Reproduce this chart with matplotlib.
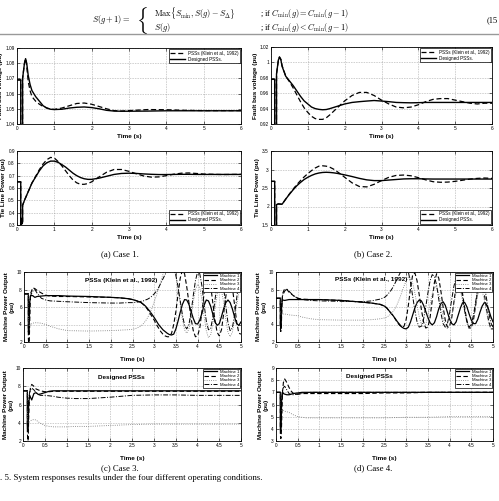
import numpy as np
import matplotlib
matplotlib.use("Agg")
import matplotlib.pyplot as plt
from matplotlib.lines import Line2D

plt.rcParams['mathtext.fontset'] = 'cm'
plt.rcParams['font.family'] = ['Liberation Sans', 'DejaVu Sans']

# ---------------- data: case 1 & 2 (a, b) ----------------
t_c1v = [0, 0.1, 0.1, 0.15, 0.15, 0.2, 0.23, 0.26, 0.3, 0.35, 0.4, 0.5, 0.6, 0.7, 0.8, 0.9, 1.0, 1.2, 1.4,
         1.6, 1.8, 2.0, 2.2, 2.4, 2.6, 2.8, 3.0, 3.5, 4.0, 4.5, 5.0, 5.5, 6.0]
c1v_designed = [1.069, 1.069, 1.035, 1.035, 1.070, 1.080, 1.083, 1.080, 1.072, 1.066, 1.062, 1.058, 1.055, 1.052,
                1.0505, 1.0497, 1.0495, 1.0497, 1.0505, 1.051, 1.0512, 1.0508, 1.050, 1.049, 1.0485, 1.0484,
                1.0484, 1.0485, 1.0487, 1.0487, 1.0487, 1.0487, 1.0487]
c1v_klein = [1.069, 1.069, 1.035, 1.035, 1.070, 1.080, 1.083, 1.078, 1.068, 1.062, 1.058, 1.055, 1.053, 1.0515,
             1.0505, 1.0498, 1.0496, 1.0505, 1.052, 1.0535, 1.0538, 1.053, 1.0515, 1.050, 1.0488, 1.0485,
             1.0488, 1.0495, 1.0494, 1.049, 1.0488, 1.0488, 1.0488]

t_c1p = [0, 0.1, 0.1, 0.12, 0.14, 0.15, 0.15, 0.2, 0.3, 0.4, 0.5, 0.6, 0.7, 0.8, 0.9, 1.0, 1.1, 1.2, 1.3, 1.4,
         1.5, 1.6, 1.7, 1.8, 1.9, 2.0, 2.2, 2.4, 2.6, 2.8, 3.0, 3.2, 3.4, 3.6, 3.8, 4.0, 4.2, 4.4, 4.6, 4.8,
         5.0, 5.5, 6.0]
c1p_designed = [0.65, 0.65, 0.29, 0.35, 0.31, 0.33, 0.46, 0.50, 0.57, 0.64, 0.69, 0.74, 0.78, 0.805, 0.818, 0.818,
                0.808, 0.79, 0.77, 0.745, 0.72, 0.70, 0.685, 0.675, 0.670, 0.670, 0.680, 0.695, 0.710, 0.718,
                0.720, 0.718, 0.714, 0.711, 0.709, 0.709, 0.710, 0.711, 0.711, 0.710, 0.710, 0.710, 0.710]
c1p_klein = [0.65, 0.65, 0.29, 0.35, 0.31, 0.33, 0.46, 0.50, 0.57, 0.64, 0.695, 0.75, 0.795, 0.83, 0.848, 0.843,
             0.815, 0.78, 0.74, 0.70, 0.665, 0.642, 0.630, 0.630, 0.636, 0.65, 0.69, 0.728, 0.750, 0.750,
             0.735, 0.715, 0.697, 0.688, 0.690, 0.700, 0.712, 0.720, 0.722, 0.718, 0.713, 0.709, 0.711]

t_c2v = [0, 0.1, 0.1, 0.15, 0.15, 0.2, 0.23, 0.27, 0.3, 0.4, 0.5, 0.6, 0.7, 0.8, 0.9, 1.0, 1.1, 1.2, 1.3, 1.4,
         1.5, 1.6, 1.8, 2.0, 2.2, 2.4, 2.6, 2.8, 3.0, 3.2, 3.4, 3.6, 3.8, 4.0, 4.2, 4.4, 4.6, 4.8, 5.0, 5.2,
         5.4, 5.6, 5.8, 6.0]
c2v_designed = [0.978, 0.978, 0.91, 0.91, 0.985, 1.003, 1.007, 1.003, 0.995, 0.982, 0.976, 0.970, 0.963, 0.956,
                0.950, 0.946, 0.942, 0.940, 0.939, 0.9385, 0.9388, 0.940, 0.943, 0.946, 0.948, 0.949, 0.9498,
                0.9505, 0.9498, 0.949, 0.948, 0.9477, 0.9475, 0.9477, 0.948, 0.948, 0.948, 0.948, 0.948, 0.948,
                0.948, 0.948, 0.948, 0.948]
c2v_klein = [0.978, 0.978, 0.91, 0.91, 0.985, 1.003, 1.007, 1.004, 0.996, 0.982, 0.975, 0.967, 0.958, 0.949,
             0.941, 0.935, 0.930, 0.927, 0.926, 0.926, 0.928, 0.932, 0.941, 0.950, 0.957, 0.961, 0.961, 0.957,
             0.951, 0.946, 0.942, 0.941, 0.942, 0.945, 0.949, 0.952, 0.953, 0.953, 0.951, 0.949, 0.947, 0.946,
             0.947, 0.947]

t_c2p = [0, 0.1, 0.1, 0.15, 0.15, 0.2, 0.3, 0.4, 0.5, 0.6, 0.7, 0.8, 0.9, 1.0, 1.1, 1.2, 1.3, 1.4, 1.5, 1.6,
         1.7, 1.8, 1.9, 2.0, 2.2, 2.4, 2.6, 2.8, 3.0, 3.2, 3.4, 3.6, 3.8, 4.0, 4.2, 4.4, 4.6, 4.8, 5.0, 5.2,
         5.4, 5.6, 5.8, 6.0]
c2p_designed = [2.68, 2.68, 1.4, 1.4, 2.05, 2.07, 2.06, 2.2, 2.33, 2.45, 2.56, 2.65, 2.73, 2.79, 2.84, 2.88,
                2.905, 2.92, 2.925, 2.92, 2.91, 2.895, 2.875, 2.855, 2.81, 2.76, 2.72, 2.70, 2.70, 2.715, 2.73,
                2.745, 2.75, 2.75, 2.745, 2.742, 2.742, 2.742, 2.742, 2.742, 2.742, 2.742, 2.742, 2.742]
c2p_klein = [2.68, 2.68, 1.4, 1.4, 2.05, 2.07, 2.06, 2.2, 2.34, 2.47, 2.59, 2.70, 2.80, 2.89, 2.97, 3.04,
             3.09, 3.10, 3.09, 3.06, 3.01, 2.94, 2.87, 2.79, 2.64, 2.54, 2.53, 2.60, 2.70, 2.79, 2.84, 2.85,
             2.83, 2.78, 2.72, 2.67, 2.655, 2.66, 2.68, 2.71, 2.74, 2.76, 2.77, 2.76]

# ---------------- data: case 3 & 4 (c, d) ----------------
t_top = [0, 0.1, 0.1, 0.11, 0.12, 0.13, 0.15, 0.2, 0.25, 0.3, 0.4, 0.5, 0.6, 0.8, 1.0, 1.5, 2.0, 2.2, 2.4] + \
        list(np.round(np.arange(2.5, 5.001, 0.05), 2))

c3_klein_m1 = [7.5, 7.5, 3.2, 3.0, 3.4, 6.5, 7.3, 7.3, 7.1, 7.2, 7.25, 7.3, 7.3, 7.3, 7.25, 7.2, 7.1, 7.05, 6.95,
               6.85, 6.78, 6.7, 6.6, 6.5, 6.3, 6.1, 5.8, 5.5, 5.15,
               4.8, 4.4, 4.0, 3.7, 3.4, 3.2, 3.0, 2.85, 2.8, 2.9,
               3.5, 4.4, 5.4, 6.3, 6.85, 6.8, 6.3, 5.5, 4.7, 4.1,
               4.05, 4.5, 5.3, 6.2, 6.8, 6.7, 6.1, 5.2, 4.3, 3.9,
               4.1, 4.9, 5.8, 6.5, 6.8, 6.5, 5.8, 4.9, 4.1, 3.9,
               4.3]
c3_klein_m2 = [7.5, 7.5, 2.5, 1.5, 1.5, 4.0, 7.5, 8.2, 8.1, 7.9, 7.6, 7.35, 7.25, 7.2, 7.2, 7.15, 7.1, 7.05, 6.95,
               6.85, 6.78, 6.7, 6.6, 6.5, 6.3, 6.05, 5.7, 5.3, 4.9,
               4.5, 4.0, 3.6, 3.2, 2.9, 2.7, 2.6, 2.6, 3.0, 4.0,
               5.5, 7.5, 9.3, 10.2, 9.8, 8.3, 6.5, 4.7, 3.3, 2.6,
               2.7, 3.6, 5.5, 7.6, 9.2, 9.5, 8.5, 6.5, 4.5, 3.1,
               2.7, 3.4, 5.2, 7.2, 8.8, 9.2, 8.3, 6.3, 4.3, 3.0,
               2.9]
c3_klein_m3 = [7.5, 7.5, 5.0, 4.2, 3.8, 3.9, 4.0, 4.15, 4.2, 4.2, 4.15, 4.0, 3.8, 3.5, 3.3, 3.25, 3.3, 3.35, 3.4,
               3.45, 3.5, 3.6, 3.7, 3.85, 4.1, 4.4, 4.8, 5.3, 5.9,
               6.6, 7.3, 8.1, 8.9, 9.7, 10.4, 11.0, 11.3, 11.2, 10.6,
               9.5, 8.0, 6.3, 4.6, 3.4, 3.0, 3.5, 4.8, 6.5, 8.0,
               8.6, 8.2, 6.8, 4.9, 3.3, 2.5, 2.8, 4.0, 5.8, 7.4,
               8.2, 7.9, 6.5, 4.6, 3.1, 2.6, 3.1, 4.5, 6.2, 7.6,
               8.2]
c3_klein_m4 = [7.5, 7.5, 6.0, 5.0, 5.5, 6.5, 7.3, 7.8, 8.0, 7.6, 7.0, 6.8, 6.7, 6.65, 6.6, 6.5, 6.45, 6.45, 6.5,
               6.5, 6.52, 6.55, 6.6, 6.65, 6.7, 6.8, 6.9, 7.05, 7.25,
               7.5, 7.8, 8.2, 8.7, 9.2, 9.7, 10.2, 10.6, 10.7, 10.4,
               9.6, 8.3, 6.7, 5.1, 3.9, 3.5, 4.0, 5.4, 7.3, 9.0,
               10.0, 9.8, 8.4, 6.3, 4.4, 3.4, 3.5, 4.8, 6.8, 8.7,
               9.8, 9.6, 8.2, 6.1, 4.2, 3.3, 3.6, 5.0, 7.0, 8.8,
               9.7]

c4_klein_m1 = [7.0, 7.0, 4.0, 3.5, 3.8, 6.3, 6.8, 6.75, 6.8, 6.85, 6.85, 6.85, 6.85, 6.85, 6.85, 6.75, 6.55, 6.45, 6.3,
               6.1, 5.9, 5.6, 5.3, 5.0, 4.65, 4.3, 4.0, 3.7, 3.55,
               3.5, 3.7, 4.3, 5.1, 5.9, 6.5, 6.8, 6.7, 6.2, 5.5,
               4.8, 4.2, 3.95, 4.2, 4.9, 5.8, 6.4, 6.6, 6.2, 5.4,
               4.6, 4.1, 3.95, 4.3, 5.1, 5.9, 6.5, 6.5, 6.0, 5.2,
               4.5, 4.1, 4.1, 4.6, 5.4, 6.1, 6.5, 6.3, 5.7, 4.9,
               4.3]
c4_klein_m2 = [7.0, 7.0, 3.5, 3.2, 3.4, 5.0, 7.5, 8.1, 8.0, 7.7, 7.3, 7.0, 6.9, 6.85, 6.85, 6.75, 6.55, 6.45, 6.3,
               6.1, 5.9, 5.6, 5.3, 5.0, 4.6, 4.2, 3.9, 3.7, 3.8,
               4.6, 6.2, 8.2, 9.7, 9.9, 9.0, 7.4, 5.7, 4.3, 3.6,
               3.7, 4.8, 6.8, 8.8, 9.8, 9.3, 7.8, 6.0, 4.5, 3.7,
               3.8, 4.8, 6.6, 8.4, 9.3, 8.9, 7.5, 5.8, 4.4, 3.6,
               3.6, 4.5, 6.2, 8.0, 9.0, 8.8, 7.5, 5.8, 4.4, 3.5,
               3.5]
c4_klein_m3 = [7.0, 7.0, 5.5, 5.2, 5.2, 5.2, 5.2, 5.2, 5.15, 5.1, 5.05, 5.0, 4.85, 4.65, 4.55, 4.5, 4.5, 4.55, 4.65,
               4.75, 4.85, 5.0, 5.2, 5.5, 5.9, 6.4, 7.0, 7.7, 8.4,
               9.0, 9.4, 9.3, 8.7, 7.6, 6.2, 4.9, 4.0, 3.7, 4.0,
               5.0, 6.3, 7.5, 8.3, 8.3, 7.6, 6.3, 4.9, 3.9, 3.5,
               3.9, 5.0, 6.4, 7.6, 8.1, 7.8, 6.7, 5.3, 4.1, 3.5,
               3.7, 4.7, 6.1, 7.4, 8.0, 7.8, 6.8, 5.4, 4.2, 3.5,
               3.6]
c4_klein_m4 = [7.0, 7.0, 6.0, 5.5, 5.8, 6.5, 7.3, 7.8, 8.1, 7.8, 7.3, 7.0, 6.85, 6.75, 6.7, 6.65, 6.6, 6.7, 6.9,
               7.1, 7.3, 7.6, 7.9, 8.3, 8.8, 9.3, 9.8, 10.2, 10.5,
               10.5, 10.0, 8.8, 7.2, 5.6, 4.3, 3.7, 3.8, 4.6, 6.0,
               7.6, 9.0, 9.7, 9.5, 8.5, 6.9, 5.3, 4.1, 3.7, 4.1,
               5.3, 6.9, 8.4, 9.3, 9.4, 8.6, 7.1, 5.5, 4.3, 3.7,
               4.0, 5.1, 6.6, 8.1, 9.1, 9.3, 8.5, 7.0, 5.4, 4.2,
               3.7]

t_bot = [0, 0.1, 0.1, 0.11, 0.12, 0.13, 0.15, 0.17, 0.2, 0.25, 0.3, 0.35, 0.4, 0.5, 0.6, 0.7, 0.8, 1.0, 1.2,
         1.5, 2.0, 2.5, 3.0, 3.5, 4.0, 4.5, 5.0]
c3_des_m1 = [7.5, 7.5, 3.5, 3.2, 3.5, 6.0, 7.0, 6.8, 6.5, 7.2, 7.3, 7.1, 7.15, 7.3, 7.45, 7.5, 7.5, 7.5, 7.5,
             7.5, 7.5, 7.5, 7.5, 7.5, 7.5, 7.5, 7.5]
c3_des_m2 = [7.5, 7.5, 3.0, 2.0, 2.2, 4.5, 7.0, 7.8, 8.2, 8.0, 7.7, 7.6, 7.5, 7.4, 7.4, 7.45, 7.45, 7.45, 7.45,
             7.45, 7.45, 7.45, 7.45, 7.45, 7.45, 7.45, 7.45]
c3_des_m3 = [7.5, 7.5, 5.0, 4.2, 4.0, 4.0, 4.1, 4.2, 4.3, 4.35, 4.3, 4.1, 3.95, 3.7, 3.6, 3.55, 3.55, 3.55, 3.6,
             3.6, 3.7, 3.8, 3.85, 3.85, 3.85, 3.85, 3.85]
c3_des_m4 = [7.5, 7.5, 6.0, 5.5, 5.8, 6.5, 7.3, 7.6, 7.8, 7.6, 7.3, 7.1, 7.0, 7.0, 6.95, 6.9, 6.8, 6.7, 6.65,
             6.65, 6.8, 7.0, 7.05, 7.05, 7.0, 7.0, 7.0]

c4_des_m1 = [7.0, 7.0, 4.0, 3.8, 4.2, 6.3, 7.0, 6.9, 6.85, 6.8, 6.8, 6.85, 6.9, 6.95, 7.0, 7.0, 7.0, 7.0, 7.0,
             7.0, 7.0, 7.0, 7.0, 7.0, 7.0, 7.0, 7.0]
c4_des_m2 = [7.0, 7.0, 3.5, 3.2, 3.3, 4.5, 7.0, 7.8, 8.1, 7.8, 7.4, 7.1, 6.9, 6.85, 6.9, 6.9, 6.9, 6.9, 6.9,
             6.9, 6.9, 6.95, 6.95, 7.0, 7.0, 7.0, 7.0]
c4_des_m3 = [7.0, 7.0, 6.0, 5.6, 5.5, 5.5, 5.5, 5.5, 5.45, 5.4, 5.35, 5.25, 5.15, 5.0, 4.95, 4.9, 4.9, 4.9, 4.9,
             4.9, 4.9, 4.9, 4.95, 4.95, 5.0, 5.0, 5.0]
c4_des_m4 = [7.0, 7.0, 6.0, 5.5, 5.8, 6.5, 7.2, 7.4, 7.5, 7.2, 6.9, 6.8, 6.8, 6.85, 6.9, 6.95, 7.0, 7.0, 7.0,
             7.0, 7.0, 7.0, 7.0, 7.0, 7.0, 7.0, 7.0]

# ---------------- labels ----------------
pss_labels = ["PSSs (Klein et al., 1992)", "Designed PSSs."]
machine_labels = ["Machine 1", "Machine 2", "Machine 3", "Machine 4"]
x6_ticks = [0, 1, 2, 3, 4, 5, 6]
x5_ticks = [0, 0.5, 1, 1.5, 2, 2.5, 3, 3.5, 4, 4.5, 5]
x5_labels = ["0", "0.5", "1", "1.5", "2", "2.5", "3", "3.5", "4", "4.5", "5"]
case_captions = ["(a) Case 1.", "(b) Case 2.", "(c) Case 3.", "(d) Case 4."]

# ---------------- figure ----------------
W, H = 499, 501
fig = plt.figure(figsize=(W / 100, H / 100), dpi=100)
fig.patch.set_facecolor('white')

def rect(l, t, r, b):
    return [l / W, 1 - b / H, (r - l) / W, (b - t) / H]

LBL = dict(fontsize=4.6, fontweight='bold')
dash = (0, (4, 2.2))
dashdot = (0, (5, 1.6, 1, 1.6))

def style(ax, xlim, xt, xtl, ylim, yt, ytl, ylabel, xpad):
    ax.set_xlim(*xlim)
    ax.set_ylim(*ylim)
    ax.set_xticks(xt)
    ax.set_xticklabels(xtl)
    ax.set_yticks(yt)
    ax.set_yticklabels(ytl)
    ax.grid(True, ls=':', color='0.55', lw=0.45)
    ax.tick_params(direction='in', length=2, width=0.4, labelsize=3.4, pad=1.5, top=True, right=True)
    for s in ax.spines.values():
        s.set_linewidth(0.6)
    ax.set_xlabel("Time (s)", labelpad=xpad, **LBL)
    ax.set_ylabel(ylabel, labelpad=1.5, **LBL)

def pss_plot(ax, t, klein, des, loc):
    ax.plot(t, klein, color='black', lw=0.9, ls=dash, label=pss_labels[0])
    ax.plot(t, des, color='black', lw=1.0, ls='-', label=pss_labels[1])
    ax.legend(loc=loc, fontsize=3.3, handlelength=3.2, frameon=True, fancybox=False, edgecolor='black',
              borderpad=0.3, labelspacing=0.2, handletextpad=0.6, borderaxespad=0.3,
              framealpha=1).get_frame().set_linewidth(0.5)

def mach_plot(ax, t, m1, m2, m3, m4):
    ax.plot(t, m1, color='black', lw=0.9, ls='-', label=machine_labels[0])
    ax.plot(t, m2, color='black', lw=0.8, ls=dash, label=machine_labels[1])
    ax.plot(t, m3, color='0.45', lw=0.6, ls=':', label=machine_labels[2])
    ax.plot(t, m4, color='black', lw=0.7, ls=dashdot, label=machine_labels[3])
    ax.legend(loc='upper right', fontsize=3.1, handlelength=3.0, frameon=True, fancybox=False,
              edgecolor='black', borderpad=0.25, labelspacing=0.08, handletextpad=0.6, borderaxespad=0.15,
              framealpha=1).get_frame().set_linewidth(0.5)

# case 1
ax = fig.add_axes(rect(17, 48, 241, 124))
pss_plot(ax, t_c1v, c1v_klein, c1v_designed, 'upper right')
style(ax, (0, 6), x6_ticks, [str(v) for v in x6_ticks], (1.04, 1.09),
      [1.04, 1.05, 1.06, 1.07, 1.08, 1.09], ["1.04", "1.05", "1.06", "1.07", "1.08", "1.09"],
      "Fault bus voltage (pu)", 2)
ax = fig.add_axes(rect(17, 151, 241, 225))
pss_plot(ax, t_c1p, c1p_klein, c1p_designed, 'lower right')
style(ax, (0, 6), x6_ticks, [str(v) for v in x6_ticks], (0.3, 0.9),
      [0.3, 0.4, 0.5, 0.6, 0.7, 0.8, 0.9], ["0.3", "0.4", "0.5", "0.6", "0.7", "0.8", "0.9"],
      "Tie Line Power (pu)", 2)
# case 2
ax = fig.add_axes(rect(271, 47, 492, 124))
pss_plot(ax, t_c2v, c2v_klein, c2v_designed, 'upper right')
style(ax, (0, 6), x6_ticks, [str(v) for v in x6_ticks], (0.92, 1.02),
      [0.92, 0.94, 0.96, 0.98, 1.0, 1.02], ["0.92", "0.94", "0.96", "0.98", "1", "1.02"],
      "Fault bus voltage (pu)", 2)
ax = fig.add_axes(rect(271, 151, 492, 225))
pss_plot(ax, t_c2p, c2p_klein, c2p_designed, 'lower right')
style(ax, (0, 6), x6_ticks, [str(v) for v in x6_ticks], (1.5, 3.5),
      [1.5, 2, 2.5, 3, 3.5], ["1.5", "2", "2.5", "3", "3.5"],
      "Tie Line Power (pu)", 2)

mlabel = "Machine Power Output\n(pu)"
# case 3
ax = fig.add_axes(rect(24, 272, 241, 342))
mach_plot(ax, t_top, c3_klein_m1, c3_klein_m2, c3_klein_m3, c3_klein_m4)
style(ax, (0, 5), x5_ticks, x5_labels, (2, 10), [2, 4, 6, 8, 10], ["2", "4", "6", "8", "10"], mlabel, 6)
ax.text(2.25, 9.0, pss_labels[0], ha='center', va='center', fontsize=4.6, fontweight='bold')
ax = fig.add_axes(rect(23, 368, 241, 441))
mach_plot(ax, t_bot, c3_des_m1, c3_des_m2, c3_des_m3, c3_des_m4)
style(ax, (0, 5), x5_ticks, x5_labels, (2, 10), [2, 4, 6, 8, 10], ["2", "4", "6", "8", "10"], mlabel, 6)
ax.text(2.25, 9.0, "Designed PSSs", ha='center', va='center', fontsize=4.6, fontweight='bold')
# case 4
ax = fig.add_axes(rect(276, 272, 493, 342))
mach_plot(ax, t_top, c4_klein_m1, c4_klein_m2, c4_klein_m3, c4_klein_m4)
style(ax, (0, 5), x5_ticks, x5_labels, (2, 10), [2, 4, 6, 8, 10], ["2", "4", "6", "8", "10"], mlabel, 6)
ax.text(2.2, 9.2, pss_labels[0], ha='center', va='center', fontsize=4.6, fontweight='bold')
ax = fig.add_axes(rect(276, 368, 493, 441))
mach_plot(ax, t_bot, c4_des_m1, c4_des_m2, c4_des_m3, c4_des_m4)
style(ax, (0, 5), x5_ticks, x5_labels, (3, 9), [3, 4, 5, 6, 7, 8, 9],
      ["3", "4", "5", "6", "7", "8", "9"], mlabel, 6)
ax.text(2.15, 8.3, "Designed PSSs", ha='center', va='center', fontsize=4.6, fontweight='bold')

# captions
serif = ['Liberation Serif', 'DejaVu Serif']
for (cx, cy), txt in zip([(120, 254), (373, 254), (120, 468), (373, 468)], case_captions):
    fig.text(cx / W, 1 - cy / H, txt, ha='center', va='center', fontsize=6.3, family=serif)
fig.text(0, 1 - 478 / H, ". 5. System responses results under the four different operating conditions.",
         ha='left', va='center', fontsize=6.3, family=serif)

# equation
eq_fs = 6.0
fig.text(92 / W, 1 - 20 / H, r"$S(g+1) = $", ha='left', va='center', fontsize=eq_fs)
fig.text(136 / W, 1 - 20 / H, r"$\{$", ha='left', va='center', fontsize=15)
fig.text(154 / W, 1 - 13 / H, r"$\mathrm{Max}\{S_{\min}, S(g) - S_{\Delta}\}$", ha='left', va='center',
         fontsize=eq_fs)
fig.text(154 / W, 1 - 27 / H, r"$S(g)$", ha='left', va='center', fontsize=eq_fs)
fig.text(260 / W, 1 - 13 / H, r"; if $C_{\min}(g) = C_{\min}(g-1)$", ha='left', va='center',
         fontsize=eq_fs, family=serif)
fig.text(260 / W, 1 - 27 / H, r"; if $C_{\min}(g) < C_{\min}(g-1)$", ha='left', va='center',
         fontsize=eq_fs, family=serif)
fig.text(487 / W, 1 - 20 / H, "(15", ha='left', va='center', fontsize=eq_fs, family=serif)
fig.add_artist(Line2D([0, 1], [1 - 33.5 / H, 1 - 33.5 / H], color='0.6', lw=1.0, transform=fig.transFigure))

fig.savefig("out.png", dpi=100, facecolor='white')
